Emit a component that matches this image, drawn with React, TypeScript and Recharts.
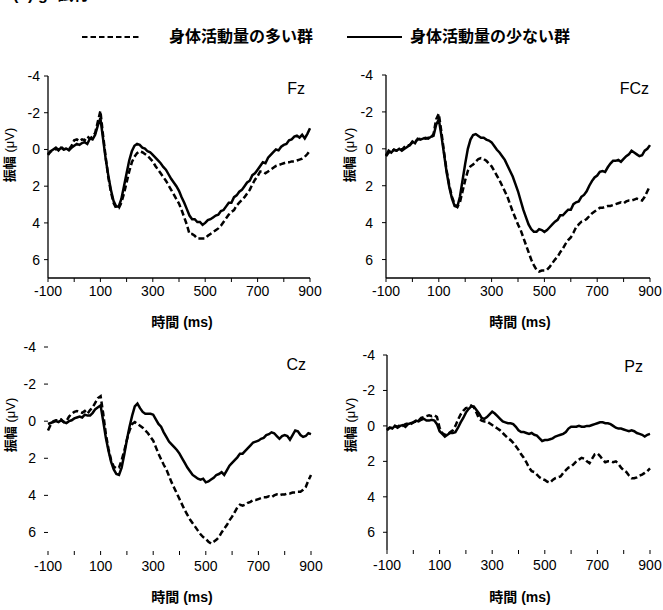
import React from 'react'
import { LineChart, Line, XAxis, YAxis } from 'recharts'

// sample times (ms) shared by every electrode
const TIME_MS = [
  -100, -90, -80, -70, -60, -50, -40, -30, -20, -10,
  0, 10, 20, 30, 40, 50, 60, 70, 80, 90,
  100, 110, 120, 130, 140, 150, 160, 170, 180, 190,
  200, 210, 220, 230, 240, 250, 260, 270, 280, 290,
  300, 310, 320, 330, 340, 350, 360, 370, 380, 390,
  400, 410, 420, 430, 440, 450, 460, 470, 480, 490,
  500, 510, 520, 530, 540, 550, 560, 570, 580, 590,
  600, 610, 620, 630, 640, 650, 660, 670, 680, 690,
  700, 710, 720, 730, 740, 750, 760, 770, 780, 790,
  800, 810, 820, 830, 840, 850, 860, 870, 880, 890,
  900,
]

// high = 身体活動量の多い群 (dashed), low = 身体活動量の少ない群 (solid), µV
const FZ_HIGH = [
  0.3, 0.1, 0.1, -0.05, 0.0, -0.15, 0.0, -0.05, 0.0, -0.2,
  -0.5, -0.55, -0.45, -0.55, -0.5, -0.7, -0.6, -0.7, -0.9, -1.5,
  -2.1, -0.8, 0.4, 1.5, 2.3, 2.9, 3.2, 3.2, 2.9, 2.4,
  1.8, 1.2, 0.7, 0.4, 0.2, 0.1, 0.15, 0.25, 0.35, 0.5,
  0.65, 0.9, 1.1, 1.3, 1.5, 1.7, 1.95, 2.2, 2.45, 2.7,
  2.95, 3.3, 3.7, 4.1, 4.6, 4.6, 4.7, 4.85, 4.85, 4.85,
  4.85, 4.7, 4.6, 4.5, 4.4, 4.3, 4.15, 3.95, 3.75, 3.55,
  3.4, 3.3, 3.05, 2.9, 2.75, 2.6, 2.4, 2.2, 1.9, 1.65,
  1.45, 1.2, 1.2, 1.3, 1.2, 1.1, 1.0, 0.9, 0.85, 0.8,
  0.75, 0.7, 0.7, 0.65, 0.65, 0.6, 0.55, 0.5, 0.4, 0.25,
  0.05,
]
const FZ_LOW = [
  0.25, 0.1, 0.0, -0.1, 0.05, -0.1, 0.0, -0.05, 0.05, -0.1,
  -0.2, -0.3, -0.25, -0.35, -0.4, -0.3, -0.6, -0.55, -0.8, -1.3,
  -1.7, -0.6, 0.5, 1.4, 2.2, 2.8, 3.1, 3.1, 2.7, 2.0,
  1.3, 0.6, 0.1, -0.2, -0.3, -0.25, -0.1, -0.05, 0.1, 0.15,
  0.3, 0.45, 0.6, 0.75, 0.95, 1.1, 1.35, 1.6, 1.8, 2.0,
  2.25, 2.6, 2.9, 3.25, 3.6, 3.8, 3.8, 3.95, 3.95, 4.1,
  4.0, 3.85, 3.8, 3.7, 3.6, 3.55, 3.35, 3.3, 3.1, 2.9,
  2.9, 2.6, 2.5, 2.3, 2.2, 2.0, 1.8, 1.7, 1.4, 1.3,
  1.1, 0.9, 0.7, 0.75, 0.45, 0.3, 0.15, 0.0, 0.05, -0.15,
  -0.25, -0.3, -0.5, -0.55, -0.7, -0.75, -0.65, -0.8, -0.6, -0.85,
  -1.15,
]

const FCZ_HIGH = [
  0.4, 0.2, 0.15, 0.05, 0.1, 0.0, 0.05, -0.1, -0.2, -0.2,
  -0.35, -0.4, -0.5, -0.55, -0.6, -0.55, -0.6, -0.6, -0.8, -1.6,
  -1.9, -0.9, 0.2, 1.2, 2.0, 2.6, 3.0, 3.15, 2.9, 2.3,
  1.7, 1.2, 0.95, 0.85, 0.7, 0.55, 0.5, 0.55, 0.65, 0.8,
  0.95, 1.2, 1.45, 1.7, 2.0, 2.3, 2.6, 3.0, 3.4, 3.75,
  4.1, 4.4, 4.8, 5.2, 5.6, 6.0, 6.3, 6.55, 6.65, 6.6,
  6.6, 6.55, 6.4, 6.2, 6.0, 5.85, 5.6, 5.4, 5.15, 4.95,
  4.8, 4.55, 4.25, 4.1, 3.95, 3.9, 3.8, 3.65, 3.5, 3.4,
  3.3, 3.2, 3.2, 3.15, 3.1, 3.1, 3.05, 3.0, 2.95, 2.9,
  2.95, 2.85, 2.8, 2.8, 2.75, 2.7, 2.75, 2.8, 2.6, 2.3,
  2.0,
]
const FCZ_LOW = [
  0.35, 0.1, 0.2, 0.05, 0.1, 0.0, 0.1, 0.0, -0.1, -0.2,
  -0.4, -0.3, -0.55, -0.5, -0.55, -0.6, -0.55, -0.65, -0.7, -1.3,
  -1.6, -0.7, 0.3, 1.3, 2.1, 2.7, 3.1, 3.15, 2.6, 1.7,
  0.8, 0.0, -0.5, -0.75, -0.8, -0.7, -0.6, -0.6, -0.5, -0.45,
  -0.35, -0.15, 0.05, 0.2, 0.4, 0.6, 0.9, 1.2, 1.5, 1.9,
  2.3, 2.8, 3.3, 3.7, 4.1, 4.35, 4.5, 4.5, 4.35, 4.4,
  4.5, 4.4, 4.25, 4.1, 3.95, 3.85, 3.6, 3.6, 3.45, 3.3,
  3.3, 3.0, 2.9, 2.85, 2.6, 2.5, 2.3, 2.0, 1.75, 1.55,
  1.45, 1.25, 1.2, 1.25, 1.0, 0.8, 0.65, 0.65, 0.6, 0.7,
  0.55, 0.4, 0.3, 0.1, 0.2, 0.3, 0.4, 0.35, 0.1, 0.0,
  -0.2,
]

const CZ_HIGH = [
  0.5, 0.2, 0.0, -0.05, -0.05, -0.1, 0.05, 0.0, -0.25, -0.4,
  -0.5, -0.55, -0.5, -0.45, -0.55, -0.4, -0.6, -0.75, -1.0, -1.25,
  -1.35, -0.4, 0.7, 1.5, 2.1, 2.45, 2.55, 2.5, 2.1, 1.6,
  1.0, 0.5, 0.15, 0.05, 0.15, 0.25, 0.35, 0.5, 0.65, 0.85,
  1.05, 1.4, 1.75, 2.05, 2.35, 2.6, 2.95, 3.3, 3.6, 3.9,
  4.2, 4.5, 4.8, 5.05, 5.3, 5.5, 5.7, 5.9, 6.1, 6.25,
  6.35, 6.5, 6.6, 6.5, 6.4, 6.25, 6.0, 5.8, 5.6, 5.35,
  5.15, 4.9, 4.65, 4.5, 4.55, 4.5, 4.4, 4.35, 4.25, 4.25,
  4.2, 4.15, 4.1, 4.1, 4.05, 4.1, 4.0, 3.95, 4.0, 3.95,
  3.95, 3.9, 3.9, 3.85, 3.85, 3.8, 3.8, 3.7, 3.55, 3.2,
  2.9,
]
const CZ_LOW = [
  0.15, 0.1, 0.05, 0.0, 0.05, -0.05, 0.05, 0.1, 0.0, -0.05,
  -0.15, -0.2, -0.25, -0.2, -0.35, -0.3, -0.3, -0.45, -0.65, -0.75,
  -0.85, 0.0, 0.9, 1.6, 2.2, 2.6, 2.85, 2.9, 2.5, 1.8,
  1.0, 0.3, -0.3, -0.8, -0.95, -0.7, -0.5, -0.4, -0.4, -0.4,
  -0.35, -0.1, 0.15, 0.3, 0.6, 0.85, 1.1, 1.25, 1.4, 1.55,
  1.75, 2.0, 2.25, 2.5, 2.7, 2.9, 3.0, 3.1, 3.15, 3.1,
  3.3, 3.25, 3.15, 3.05, 2.9, 2.85, 2.75, 2.9, 2.65, 2.4,
  2.25, 2.1, 1.95, 1.75, 1.75, 1.6, 1.45, 1.3, 1.15, 1.1,
  1.05, 0.95, 0.9, 0.75, 0.7, 0.6, 0.65, 0.8, 0.95, 0.8,
  0.75, 0.8, 1.0, 0.75, 0.5, 0.55, 0.75, 0.85, 0.8, 0.65,
  0.7,
]

const PZ_HIGH = [
  0.25, 0.1, 0.1, 0.0, 0.05, -0.05, 0.0, -0.1, -0.15, -0.1,
  -0.2, -0.25, -0.3, -0.45, -0.5, -0.55, -0.6, -0.55, -0.6, -0.5,
  0.1, 0.4, 0.5, 0.5, 0.35, 0.25, 0.0, -0.35, -0.65, -0.85,
  -1.0, -1.05, -1.15, -1.05, -0.75, -0.4, -0.3, -0.25, -0.25, -0.15,
  -0.05, 0.05, 0.15, 0.25, 0.4, 0.55, 0.7, 0.8, 0.95, 1.15,
  1.35, 1.6, 1.8, 2.05, 2.35, 2.55, 2.6, 2.75, 2.9, 3.0,
  3.05, 3.15, 3.2, 3.05, 2.95, 2.9, 2.85, 2.65, 2.5, 2.35,
  2.3, 2.15, 2.0, 1.9, 1.8, 1.85, 2.0, 2.1, 1.85, 1.6,
  1.55, 1.7, 1.9, 2.05, 2.0, 2.0, 2.05, 2.0, 2.15, 2.35,
  2.5, 2.6, 2.8, 2.95, 2.95, 2.9, 2.8, 2.75, 2.65, 2.55,
  2.4,
]
const PZ_LOW = [
  0.2, 0.1, 0.15, 0.0, 0.1, 0.0, -0.05, 0.05, -0.1, -0.15,
  -0.2, -0.3, -0.25, -0.35, -0.4, -0.3, -0.3, -0.35, -0.3, -0.1,
  0.3, 0.45, 0.6, 0.5, 0.4, 0.4, 0.35, 0.1, -0.2, -0.45,
  -0.75, -0.95, -1.1, -1.1, -0.9, -0.7, -0.45, -0.4, -0.5, -0.65,
  -0.8, -0.7, -0.55, -0.4, -0.25, -0.2, -0.15, -0.15, -0.1, 0.05,
  0.25, 0.35, 0.35, 0.4, 0.45, 0.4, 0.5, 0.55, 0.7, 0.85,
  0.8, 0.8, 0.75, 0.7, 0.6, 0.55, 0.5, 0.45, 0.35, 0.15,
  0.05, 0.05, 0.05, 0.0, 0.05, 0.05, 0.0, 0.0, -0.05, -0.1,
  -0.15, -0.2, -0.2, -0.15, -0.15, -0.1, 0.0, 0.1, 0.15, 0.15,
  0.2, 0.25, 0.3, 0.25, 0.3, 0.4, 0.45, 0.5, 0.6, 0.5,
  0.45,
]

const X_TICKS = [-100, 0, 100, 200, 300, 400, 500, 600, 700, 800, 900]
const X_LABELS = [-100, 100, 300, 500, 700, 900]
const Y_TICKS = [-4, -2, 0, 2, 4, 6]

const FONT = '"Liberation Sans", Arial, "Noto Sans CJK JP", sans-serif'
const INK = '#000'

type PanelProps = {
  high: number[]
  low: number[]
  // plot box in page pixels
  x: number
  y: number
  w: number
  h: number
  xLine: boolean
  yLine: boolean
  yTickMargin: number
  xTickMargin: number
}

function Panel({ high, low, x, y, w, h, xLine, yLine, yTickMargin, xTickMargin }: PanelProps) {
  const data = TIME_MS.map((t, i) => ({ t, high: high[i], low: low[i] }))
  const tick = { fontSize: 14, fill: INK, fontFamily: FONT }
  return (
    <div style={{ position: 'absolute', left: x - 50, top: y - 10 }}>
      <LineChart
        width={w + 72}
        height={h + 40}
        data={data}
        margin={{ top: 10, right: 22, bottom: 0, left: 10 }}
      >
        <XAxis
          type="number"
          dataKey="t"
          domain={[-100, 900]}
          ticks={X_TICKS}
          interval={0}
          tickFormatter={(v: number) => (X_LABELS.includes(v) ? String(v) : '')}
          tick={tick}
          tickSize={4}
          tickMargin={xTickMargin}
          tickLine={{ stroke: INK, strokeWidth: 1 }}
          axisLine={xLine ? { stroke: INK, strokeWidth: 1.3 } : false}
          height={30}
        />
        <YAxis
          type="number"
          domain={[-4, 7]}
          reversed
          ticks={Y_TICKS}
          interval={0}
          tick={tick}
          tickSize={4}
          tickMargin={yTickMargin}
          tickLine={{ stroke: INK, strokeWidth: 1 }}
          axisLine={yLine ? { stroke: INK, strokeWidth: 1.3 } : false}
          width={40}
        />
        <Line
          type="linear"
          dataKey="high"
          stroke={INK}
          strokeWidth={2.5}
          strokeDasharray="6 3"
          dot={false}
          isAnimationActive={false}
        />
        <Line
          type="linear"
          dataKey="low"
          stroke={INK}
          strokeWidth={2.5}
          dot={false}
          isAnimationActive={false}
        />
      </LineChart>
    </div>
  )
}

type TextProps = {
  x: number
  y: number
  size?: number
  bold?: boolean
  anchor?: 'start' | 'middle' | 'end'
  rotate?: number
  children: React.ReactNode
}

function Text({ x, y, size = 14, bold = false, anchor = 'middle', rotate = 0, children }: TextProps) {
  const tx = anchor === 'middle' ? '-50%' : anchor === 'end' ? '-100%' : '0'
  return (
    <div
      style={{
        position: 'absolute',
        left: x,
        top: y,
        transform: `translate(${tx}, -50%) rotate(${rotate}deg)`,
        fontFamily: FONT,
        fontSize: size,
        fontWeight: bold ? 700 : 400,
        lineHeight: 1,
        whiteSpace: 'nowrap',
        color: INK,
      }}
    >
      {children}
    </div>
  )
}

function YTitle({ x, y }: { x: number; y: number }) {
  return (
    <Text x={x} y={y} size={13} rotate={-90}>
      <b>振幅</b> (μV)
    </Text>
  )
}

export default function App() {
  return (
    <div
      style={{
        position: 'absolute',
        left: 0,
        top: 0,
        width: 663,
        height: 610,
        background: '#fff',
        overflow: 'hidden',
      }}
    >
      {/* heading of the figure, mostly above the top edge */}
      <div
        style={{
          position: 'absolute',
          left: 13,
          top: -13,
          fontFamily: FONT,
          fontSize: 16,
          fontWeight: 700,
          lineHeight: 1,
          whiteSpace: 'nowrap',
        }}
      >
        (b) go試行
      </div>

      {/* legend */}
      <svg style={{ position: 'absolute', left: 0, top: 0 }} width={663} height={60}>
        <line x1={82} y1={37} x2={140} y2={37} stroke={INK} strokeWidth={2.2} strokeDasharray="5.5 3" />
        <line x1={347} y1={37} x2={402} y2={37} stroke={INK} strokeWidth={2.2} />
      </svg>
      <Text x={169} y={37} size={16} bold anchor="start">身体活動量の多い群</Text>
      <Text x={410} y={37} size={16} bold anchor="start">身体活動量の少ない群</Text>

      <Panel high={FZ_HIGH} low={FZ_LOW} x={48} y={75.5} w={262} h={202} xLine yLine yTickMargin={4} xTickMargin={4} />
      <Panel high={FCZ_HIGH} low={FCZ_LOW} x={385.5} y={74.5} w={264} h={203} xLine yLine yTickMargin={9} xTickMargin={4} />
      <Panel high={CZ_HIGH} low={CZ_LOW} x={48} y={346.5} w={263} h={204} xLine={false} yLine={false} yTickMargin={8} xTickMargin={6} />
      <Panel high={PZ_HIGH} low={PZ_LOW} x={386.5} y={354.5} w={263} h={195} xLine={false} yLine yTickMargin={8} xTickMargin={6} />

      <Text x={305} y={89} size={16} anchor="end">Fz</Text>
      <Text x={649} y={89} size={16} anchor="end">FCz</Text>
      <Text x={306} y={365} size={16} anchor="end">Cz</Text>
      <Text x={643} y={367} size={16} anchor="end">Pz</Text>

      <Text x={182} y={322} bold>時間 (ms)</Text>
      <Text x={520} y={322} bold>時間 (ms)</Text>
      <Text x={182} y={597} bold>時間 (ms)</Text>
      <Text x={520} y={597} bold>時間 (ms)</Text>

      <YTitle x={9} y={155} />
      <YTitle x={349} y={155} />
      <YTitle x={10} y={425} />
      <YTitle x={350} y={425} />
    </div>
  )
}
